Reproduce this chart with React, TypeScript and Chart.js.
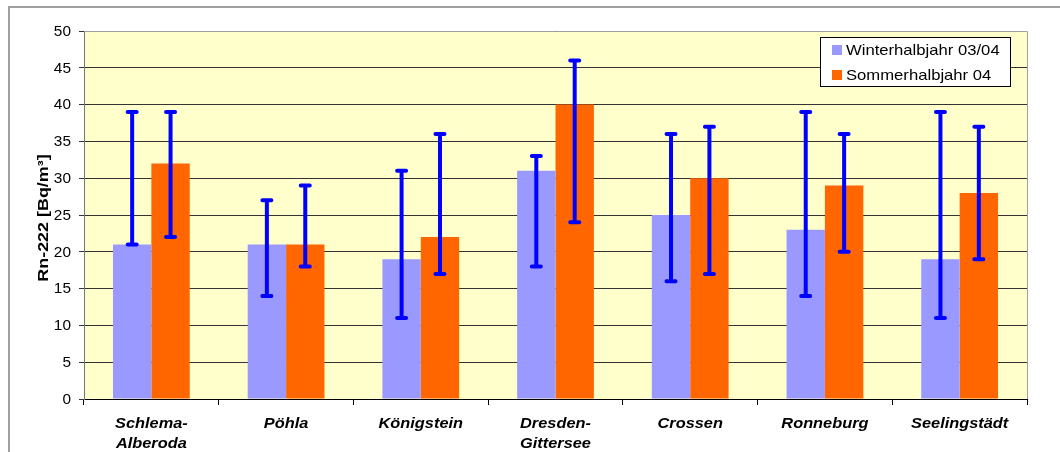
import React, { useEffect, useRef } from "react";
import { Chart, registerables } from "chart.js";

Chart.register(...registerables);

const categories: string[][] = [
  ["Schlema-", "Alberoda"],
  ["Pöhla"],
  ["Königstein"],
  ["Dresden-", "Gittersee"],
  ["Crossen"],
  ["Ronneburg"],
  ["Seelingstädt"],
];
const seriesNames = ["Winterhalbjahr 03/04", "Sommerhalbjahr 04"];
const winterValues = [21, 21, 19, 31, 25, 23, 19];
const summerValues = [32, 21, 22, 40, 30, 29, 28];
const winterMin = [21, 14, 11, 18, 16, 14, 11];
const winterMax = [39, 27, 31, 33, 36, 39, 39];
const summerMin = [22, 18, 17, 24, 17, 20, 19];
const summerMax = [39, 29, 36, 46, 37, 36, 37];
const yTicks = [0, 5, 10, 15, 20, 25, 30, 35, 40, 45, 50];
const yTitle = "Rn-222 [Bq/m³]";

const FONT = "'Liberation Sans', Arial, sans-serif";
const colors = ["#9999FF", "#FF6600"];

function stretchedText(ctx: any, text: string, x: number, y: number, sx: number, align: string) {
  ctx.save();
  ctx.translate(x, y);
  ctx.scale(sx, 1);
  ctx.textAlign = align;
  ctx.fillText(text, 0, 0);
  ctx.restore();
}

const decorPlugin = {
  id: "decor",
  beforeDraw(chart: any) {
    const { ctx, chartArea } = chart;
    ctx.save();
    ctx.fillStyle = "#FFFFFF";
    ctx.fillRect(0, 0, chart.width, chart.height);
    ctx.strokeStyle = "#A0A0A0";
    ctx.lineWidth = 2;
    ctx.strokeRect(9, 7, chart.width + 20, chart.height + 20);
    ctx.fillStyle = "#FFFFCC";
    ctx.fillRect(chartArea.left, chartArea.top, chartArea.right - chartArea.left, chartArea.bottom - chartArea.top);
    ctx.restore();
  },
  afterDatasetsDraw(chart: any) {
    const { ctx, chartArea } = chart;
    const y = chart.scales.y;
    const mins = [winterMin, summerMin];
    const maxs = [winterMax, summerMax];
    ctx.save();
    ctx.strokeStyle = "#A0A0A0";
    ctx.lineWidth = 1;
    ctx.beginPath();
    ctx.moveTo(chartArea.left, chartArea.top + 0.5);
    ctx.lineTo(chartArea.right + 0.5, chartArea.top + 0.5);
    ctx.lineTo(chartArea.right + 0.5, chartArea.bottom);
    ctx.stroke();
    ctx.strokeStyle = "#0000FF";
    ctx.lineWidth = 4;
    ctx.lineCap = "round";
    for (let d = 0; d < 2; d++) {
      const meta = chart.getDatasetMeta(d);
      meta.data.forEach((bar: any, i: number) => {
        const x = bar.x;
        const y1 = y.getPixelForValue(mins[d][i]);
        const y2 = y.getPixelForValue(maxs[d][i]);
        ctx.beginPath();
        ctx.moveTo(x, y1);
        ctx.lineTo(x, y2);
        ctx.moveTo(x - 4.5, y1);
        ctx.lineTo(x + 4.5, y1);
        ctx.moveTo(x - 4.5, y2);
        ctx.lineTo(x + 4.5, y2);
        ctx.stroke();
      });
    }
    ctx.restore();
  },
  afterDraw(chart: any) {
    const { ctx, chartArea } = chart;
    const ys = chart.scales.y;
    const xs = chart.scales.x;
    ctx.save();
    ctx.fillStyle = "#000";
    // y tick labels
    ctx.font = `14px ${FONT}`;
    ctx.textBaseline = "middle";
    yTicks.forEach((v) => {
      stretchedText(ctx, String(v), 71, ys.getPixelForValue(v) + 1, 1.1, "right");
    });
    // x labels
    ctx.font = `italic bold 15px ${FONT}`;
    ctx.textBaseline = "middle";
    categories.forEach((lines, i) => {
      const cx = xs.getPixelForValue(i);
      lines.forEach((ln, j) => {
        stretchedText(ctx, ln, cx, 424 + j * 20, 1.09, "center");
      });
    });
    ctx.restore();

    // y title
    ctx.save();
    ctx.translate(47.5, 218);
    ctx.rotate(-Math.PI / 2);
    ctx.scale(1.28, 1);
    ctx.font = `bold 14px ${FONT}`;
    ctx.fillStyle = "#000";
    ctx.textAlign = "center";
    ctx.textBaseline = "alphabetic";
    ctx.fillText(yTitle, 0, 0);
    ctx.restore();

    // legend
    ctx.save();
    const lx = 820.5, ly = 37.5, lw = 190, lh = 49;
    ctx.fillStyle = "#FFFFFF";
    ctx.fillRect(lx, ly, lw, lh);
    ctx.strokeStyle = "#000";
    ctx.lineWidth = 1;
    ctx.strokeRect(lx, ly, lw, lh);
    ctx.font = `15px ${FONT}`;
    ctx.textBaseline = "middle";
    seriesNames.forEach((name, i) => {
      const cy = 50 + i * 25;
      ctx.fillStyle = colors[i];
      ctx.fillRect(832, cy - 5, 10, 10);
      ctx.fillStyle = "#000";
      stretchedText(ctx, name, 846, cy + 1, 1.11, "left");
    });
    ctx.restore();
  },
};

export default function App() {
  const ref = useRef<HTMLCanvasElement>(null);
  useEffect(() => {
    if (!ref.current) return;
    const chart = new Chart(ref.current, {
      type: "bar",
      data: {
        labels: categories.map((c) => c.join(" ")),
        datasets: [
          { label: seriesNames[0], data: winterValues, backgroundColor: colors[0], categoryPercentage: 0.57, barPercentage: 1.0 },
          { label: seriesNames[1], data: summerValues, backgroundColor: colors[1], categoryPercentage: 0.57, barPercentage: 1.0 },
        ],
      },
      options: {
        responsive: false,
        animation: false,
        devicePixelRatio: 1,
        layout: { padding: { top: 31, right: 33, left: 0, bottom: 0 } },
        plugins: { legend: { display: false }, tooltip: { enabled: false } },
        scales: {
          x: {
            afterFit: (s: any) => { s.height = 53; },
            grid: { drawOnChartArea: false, color: "#000", tickLength: 6, offset: true },
            border: { color: "#000" },
            ticks: { display: false, autoSkip: false },
          },
          y: {
            min: 0,
            max: 50,
            afterFit: (s: any) => { s.width = 84; },
            grid: { color: "#333", tickLength: 5 },
            border: { color: "#777" },
            ticks: { display: false, stepSize: 5 },
          },
        },
      },
      plugins: [decorPlugin],
    } as any);
    return () => chart.destroy();
  }, []);
  return (
    <div style={{ position: "fixed", left: 0, top: 0, width: 1060, height: 452 }}>
      <canvas ref={ref} width={1060} height={452} style={{ width: 1060, height: 452 }} />
    </div>
  );
}
